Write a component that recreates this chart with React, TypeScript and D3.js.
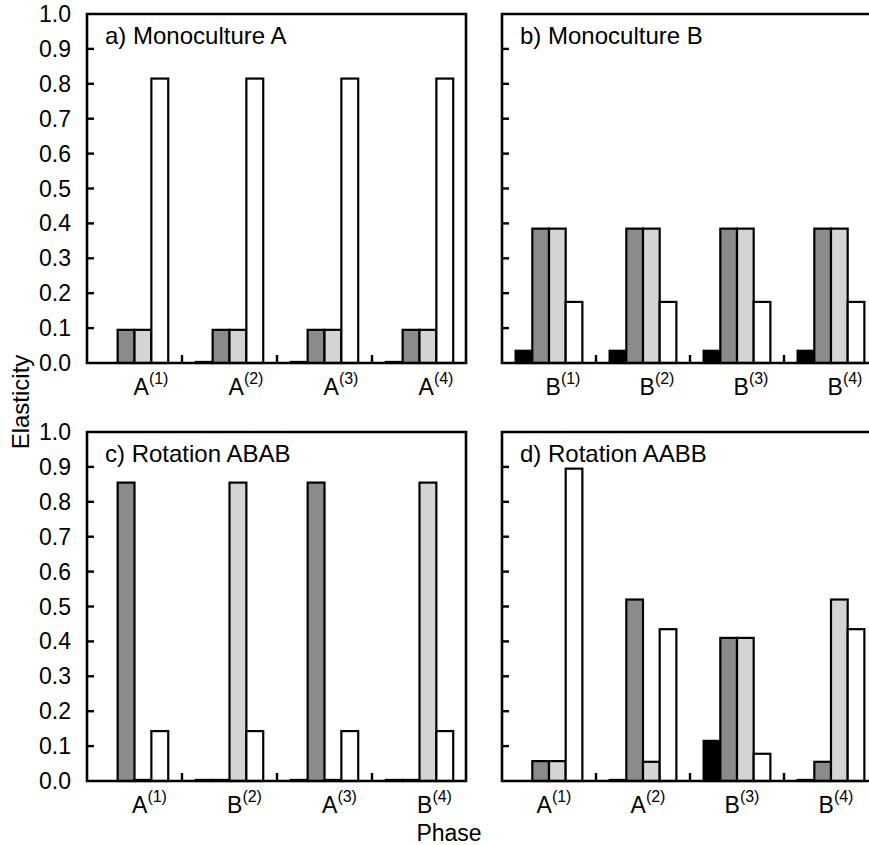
import { useRef, useEffect } from "react";
import * as d3 from "d3";

// values: each row is one phase, [black, dark grey, light grey, white]
const series = ["black", "dark", "light", "white"];
const yTicks = [0, 0.1, 0.2, 0.3, 0.4, 0.5, 0.6, 0.7, 0.8, 0.9, 1.0];
const phaseSup = ["(1)", "(2)", "(3)", "(4)"];

const monoA = [
  [0, 0.095, 0.095, 0.815],
  [0.003, 0.095, 0.095, 0.815],
  [0.003, 0.095, 0.095, 0.815],
  [0.003, 0.095, 0.095, 0.815],
];
const monoB = [
  [0.035, 0.385, 0.385, 0.175],
  [0.035, 0.385, 0.385, 0.175],
  [0.035, 0.385, 0.385, 0.175],
  [0.035, 0.385, 0.385, 0.175],
];
const rotABAB = [
  [0, 0.855, 0.003, 0.143],
  [0.003, 0.003, 0.855, 0.143],
  [0.003, 0.855, 0.003, 0.143],
  [0.003, 0.003, 0.855, 0.143],
];
const rotAABB = [
  [0, 0.057, 0.057, 0.895],
  [0.003, 0.52, 0.055, 0.435],
  [0.115, 0.41, 0.41, 0.078],
  [0.003, 0.055, 0.52, 0.435],
];

const labelsA = ["A", "A", "A", "A"];
const labelsB = ["B", "B", "B", "B"];
const labelsABAB = ["A", "B", "A", "B"];
const labelsAABB = ["A", "A", "B", "B"];

const FONT = "'Liberation Sans', Arial, Helvetica, sans-serif";

function App() {
  const svgRef = useRef<SVGSVGElement>(null);

  useEffect(() => {
    const svg = d3.select(svgRef.current);
    svg.selectAll("*").remove();

    // halftone-ish fills
    const defs = svg.append("defs");
    const mkPattern = (id: string, a: string, b: string) => {
      const p = defs
        .append("pattern")
        .attr("id", id)
        .attr("width", 2)
        .attr("height", 2)
        .attr("patternUnits", "userSpaceOnUse");
      p.append("rect").attr("width", 2).attr("height", 2).attr("fill", a);
      p.append("rect").attr("width", 1).attr("height", 1).attr("fill", b);
      p.append("rect").attr("x", 1).attr("y", 1).attr("width", 1).attr("height", 1).attr("fill", b);
    };
    mkPattern("darkFill", "#7a7a7a", "#9c9c9c");
    mkPattern("lightFill", "#c6c6c6", "#e2e2e2");

    const fill = d3
      .scaleOrdinal<string, string>()
      .domain(series)
      .range(["#000", "url(#darkFill)", "url(#lightFill)", "#fff"]);

    const panels = [
      { title: "a) Monoculture A", data: monoA, labels: labelsA, x0: 87, step: 95, y0: 363, y1: 14, right: true, yLabels: true, lab: 16.5 },
      { title: "b) Monoculture B", data: monoB, labels: labelsB, x0: 502, step: 94, y0: 363, y1: 14, right: false, yLabels: false, lab: 14 },
      { title: "c) Rotation ABAB", data: rotABAB, labels: labelsABAB, x0: 87, step: 95, y0: 781, y1: 432, right: true, yLabels: true, lab: 15 },
      { title: "d) Rotation AABB", data: rotAABB, labels: labelsAABB, x0: 502, step: 94, y0: 781, y1: 432, right: false, yLabels: false, lab: 5 },
    ];

    panels.forEach((p) => {
      const g = svg.append("g");
      const x1 = p.x0 + p.step * 4;
      const x = d3
        .scaleBand<number>()
        .domain([0, 1, 2, 3])
        .range([p.x0, x1])
        .paddingInner(0.29)
        .paddingOuter(0.145);
      const xs = d3.scaleBand<string>().domain(series).range([0, x.bandwidth()]);
      const y = d3.scaleLinear().domain([0, 1]).range([p.y0, p.y1]);

      // bars
      const grp = g
        .selectAll("g.grp")
        .data(p.data)
        .join("g")
        .attr("transform", (_d, i) => `translate(${x(i)},0)`);
      grp
        .selectAll("rect")
        .data((d) => d.map((v, j) => ({ key: series[j], v })))
        .join("rect")
        .attr("x", (d) => xs(d.key)!)
        .attr("width", xs.bandwidth())
        .attr("y", (d) => y(d.v))
        .attr("height", (d) => y(0) - y(d.v))
        .attr("fill", (d) => fill(d.key))
        .attr("stroke", "#000")
        .attr("stroke-width", 2.2);

      // frame
      const right = p.right ? 466 : x1;
      g.append("path")
        .attr(
          "d",
          p.right
            ? `M${p.x0},${p.y0}V${p.y1}H${right}V${p.y0}Z`
            : `M${right},${p.y1}H${p.x0}V${p.y0}H${right}`
        )
        .attr("fill", "none")
        .attr("stroke", "#000")
        .attr("stroke-width", 2.6);

      // y ticks (inward)
      g.selectAll("line.yt")
        .data(yTicks.slice(1, -1))
        .join("line")
        .attr("x1", p.x0)
        .attr("x2", p.x0 + 7)
        .attr("y1", (d) => y(d))
        .attr("y2", (d) => y(d))
        .attr("stroke", "#000")
        .attr("stroke-width", 2.4);

      if (p.yLabels) {
        g.selectAll("text.yl")
          .data(yTicks)
          .join("text")
          .attr("x", p.x0 - 16)
          .attr("y", (d) => y(d) + 8)
          .attr("text-anchor", "end")
          .style("font-family", FONT)
          .style("font-size", "23px")
          .text((d) => d3.format(".1f")(d));
      }

      // x ticks at group boundaries
      g.selectAll("line.xt")
        .data([1, 2, 3])
        .join("line")
        .attr("x1", (d) => p.x0 + p.step * d)
        .attr("x2", (d) => p.x0 + p.step * d)
        .attr("y1", p.y0)
        .attr("y2", p.y0 - 8)
        .attr("stroke", "#000")
        .attr("stroke-width", 2.4);

      // phase labels
      const lt = g
        .selectAll("text.xl")
        .data(p.labels)
        .join("text")
        .attr("x", (_d, i) => x(i)! + x.bandwidth() / 2 + p.lab)
        .attr("y", p.y0 + 32)
        .attr("text-anchor", "middle")
        .style("font-family", FONT)
        .style("font-size", "23px");
      lt.append("tspan").text((d) => d);
      lt.append("tspan")
        .attr("dy", -11)
        .style("font-size", "16px")
        .text((_d, i) => phaseSup[i]);

      // title
      g.append("text")
        .attr("x", p.x0 + 18)
        .attr("y", p.y1 + 30)
        .style("font-family", FONT)
        .style("font-size", "24px")
        .text(p.title);
    });

    svg.append("text")
      .attr("transform", "translate(29,402) rotate(-90)")
      .attr("text-anchor", "middle")
      .style("font-family", FONT)
      .style("font-size", "24px")
      .text("Elasticity");

    svg.append("text")
      .attr("x", 449)
      .attr("y", 841)
      .attr("text-anchor", "middle")
      .style("font-family", FONT)
      .style("font-size", "23px")
      .text("Phase");
  }, []);

  return (
    <svg
      ref={svgRef}
      width={869}
      height={845}
      style={{ position: "absolute", left: 0, top: 0, background: "#fff" }}
    ></svg>
  );
}

export default App;
